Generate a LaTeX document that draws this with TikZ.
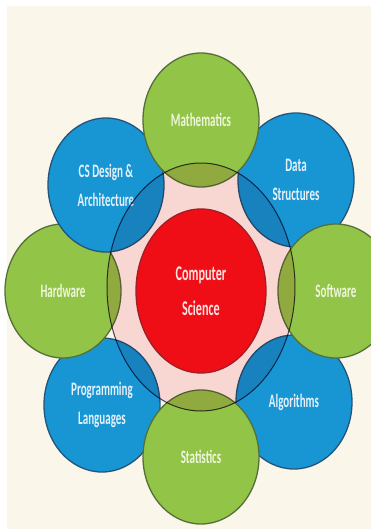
\documentclass[tikz,border=0pt]{standalone}
\usepackage{fontspec}
\newfontfamily\labelfont[FakeStretch=0.58]{Carlito}
\usetikzlibrary{shapes.geometric, positioning}

\definecolor{cream}{RGB}{250,246,234}
\definecolor{leafgreen}{RGB}{146,196,72}
\definecolor{leafedge}{RGB}{84,112,56}
\definecolor{leaftext}{RGB}{238,246,220}
\definecolor{skyblue}{RGB}{24,150,212}
\definecolor{skyedge}{RGB}{36,84,122}
\definecolor{skytext}{RGB}{228,240,250}
\definecolor{hubpink}{RGB}{253,222,228}
\definecolor{hubedge}{RGB}{70,70,96}
\definecolor{corered}{RGB}{240,14,22}
\definecolor{coreedge}{RGB}{160,30,40}
\definecolor{coretext}{RGB}{252,226,226}

\begin{document}
\begin{tikzpicture}[x=1pt, y=1pt, on grid,
    disc/.style={ellipse, minimum width=116pt, minimum height=134pt, inner sep=0pt,
        line width=1.3pt, align=center,
        font=\labelfont\bfseries\fontsize{19}{29}\selectfont},
    greendisc/.style={disc, fill=leafgreen, draw=leafedge, text=leaftext},
    bluedisc/.style={disc, fill=skyblue, draw=skyedge, text=skytext},
    hubdisc/.style={ellipse, minimum width=188pt, minimum height=248pt, inner sep=0pt,
        fill=hubpink, draw=hubedge, line width=1pt},
    coredisc/.style={ellipse, minimum width=130pt, minimum height=164pt, inner sep=0pt,
        fill=corered, draw=coreedge, line width=1.3pt, text=coretext, align=center,
        font=\labelfont\bfseries\fontsize{21}{35}\selectfont}]

    \useasboundingbox (-201,-240) rectangle (170,291);
    \clip (-201,-240) rectangle (170,291);
    \fill[cream] (-194,-238) rectangle (170,285);

    \coordinate (hub) at (0,0);

    % outer ring, back to front
    \node[bluedisc, above right=111pt and 95pt of hub, anchor=center] (data) {Data\\Structures};
    \node[bluedisc, below right=111pt and 93pt of hub, anchor=center] (algo) {Algorithms};
    \node[bluedisc, below left=114pt and 99pt of hub, anchor=center] (prog) {Programming\\Languages};
    \node[greendisc, left=138pt of hub, anchor=center] (hw) {Hardware};
    \node[bluedisc, above left=106pt and 95pt of hub, anchor=center] (arch) {CS Design \&\\Architecture};
    \node[greendisc, above=171pt of hub, anchor=center] (math) {Mathematics};
    \node[greendisc, right=135pt of hub, anchor=center] (sw) {Software};
    \node[greendisc, below=166pt of hub, anchor=center] (stat) {Statistics};

    % pink hub darkens what lies under it
    \begin{scope}[blend mode=multiply]
        \node[hubdisc, yshift=4pt] (ring) at (hub) {};
    \end{scope}

    \node[coredisc] (cs) at (hub) {Computer\\Science};
\end{tikzpicture}
\end{document}
